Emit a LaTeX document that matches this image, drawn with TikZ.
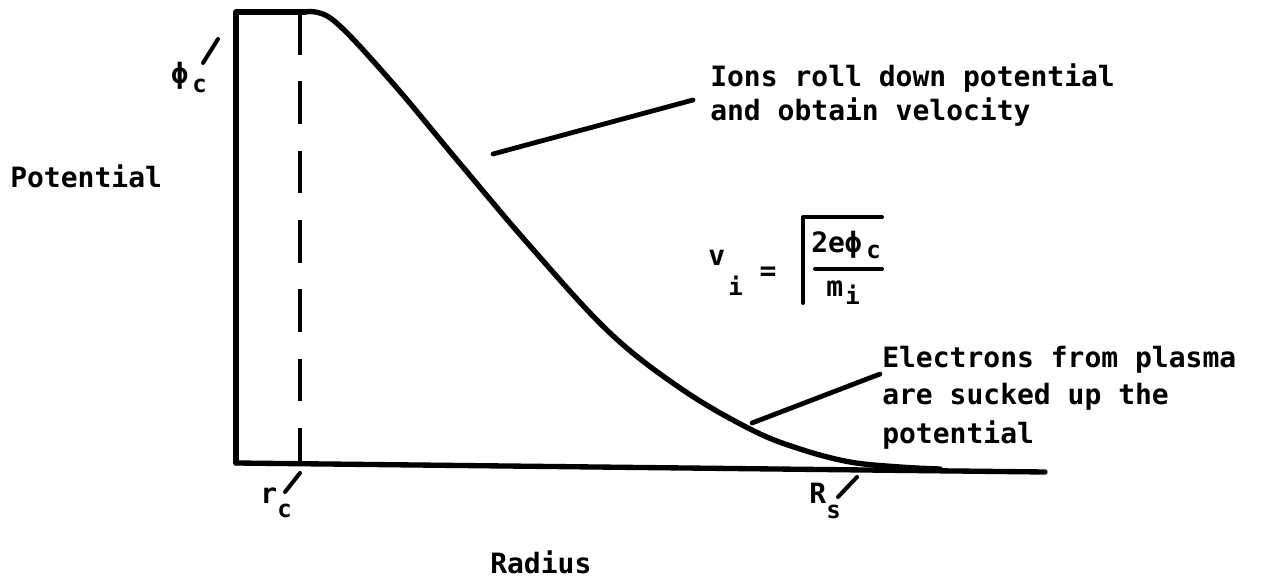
\documentclass[tikz,border=0pt]{standalone}
\usepackage{fontspec}
\newfontfamily\tw{DejaVu Sans Mono}
\begin{document}
\begin{tikzpicture}[x=0.75pt,y=-0.75pt,
  thk/.style={line width=4pt,line cap=round,line join=round},
  lead/.style={line width=3.6pt,line cap=round},
  lab/.style={font=\tw\bfseries\fontsize{21}{25}\selectfont,inner sep=0pt},
  sub/.style={font=\tw\bfseries\fontsize{18}{22}\selectfont,inner sep=0pt},
  tick/.style={line width=3pt,line cap=round}]
\useasboundingbox (0,0) rectangle (1266,580);
\fill[white] (0,0) rectangle (1266,580);
% axes
\coordinate (o) at (236,463);
\coordinate (top) at (236,12);
\coordinate (xend) at (1045,472);
\draw[thk] (o) -- (top) -- (305,12);
\draw[thk] (o) -- (xend);
% dashed r_c line
\coordinate (rt) at (300,12);
\coordinate (rb) at (300,463);
\draw[line width=3.6pt,dash pattern=on 32pt off 20pt] (rt) -- (rb);
% potential curve
\draw[thk] plot[smooth,tension=0.6] coordinates {(305,12) (333,20) (390,80) (457,160) (530,246) (610,333) (683,390) (752,430) (800,449) (850,462) (900,467) (940,469)};
% labels
\node[lab,anchor=base west] (pot) at (10,188) {Potential};
\node[lab,anchor=base west] (rad) at (490,573) {Radius};
\node[lab,anchor=base west] (ion1) at (710,87) {Ions roll down potential};
\node[lab,anchor=base west] (ion2) at (710,121) {and obtain velocity};
\node[lab,anchor=base west] (el1) at (882,368) {Electrons from plasma};
\node[lab,anchor=base west] (el2) at (882,405) {are sucked up the};
\node[lab,anchor=base west] (el3) at (882,443) {potential};
% leaders
\coordinate (ionp) at (493,154);
\coordinate (elp) at (752,423);
\draw[lead] (ionp) -- (693,100);
\draw[lead] (elp) -- (880,374);
% phi_c
\node[lab,anchor=base west] (phi) at (171,84) {\symbol{"03D5}};
\node[sub,anchor=base west] (phic) at (192,93) {c};
\draw[tick] (203,63) -- (218,39);
% r_c
\node[lab,anchor=base west] (r) at (260,503) {r};
\node[sub,anchor=base west] (rc) at (277,517) {c};
\draw[tick] (285,492) -- (300,473);
% R_s
\node[lab,anchor=base west] (R) at (809,503) {R};
\node[sub,anchor=base west] (Rs) at (826,518) {s};
\draw[tick] (838,497) -- (857,477);
% equation
\node[lab,anchor=base west] (v) at (708,266) {v};
\node[sub,anchor=base west] (vi) at (728,296) {i};
\node[lab] (eq) at (768,274) {=};
\draw[line width=3pt,line cap=round,line join=round] (803,303) -- (803,217) -- (882,217);
\node[lab,anchor=base west] (num) at (811,253) {2e\symbol{"03D5}};
\node[sub,anchor=base west] (numc) at (866,259) {c};
\draw[line width=3pt,line cap=round] (815,269) -- (882,269);
\node[lab,anchor=base west] (m) at (826,297) {m};
\node[sub,anchor=base west] (mi) at (845,305) {i};
\end{tikzpicture}
\end{document}
